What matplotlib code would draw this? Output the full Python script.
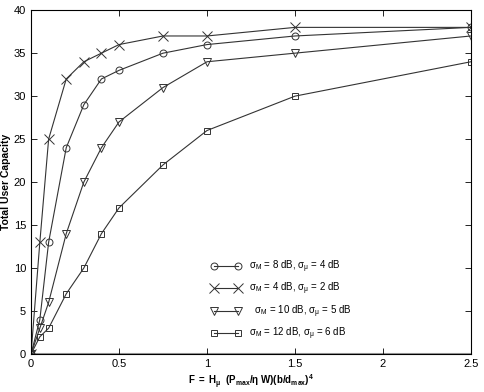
import numpy as np
import matplotlib
matplotlib.use('Agg')
import matplotlib.pyplot as plt

plt.rcParams['font.family'] = ['Liberation Sans', 'DejaVu Sans']
plt.rcParams['mathtext.fontset'] = 'custom'
plt.rcParams['mathtext.rm'] = 'Liberation Sans'
plt.rcParams['mathtext.it'] = 'Liberation Sans:italic'
plt.rcParams['mathtext.bf'] = 'Liberation Sans:bold'
plt.rcParams['mathtext.default'] = 'regular'

# 数据
F = [0, 0.05, 0.1, 0.2, 0.3, 0.4, 0.5, 0.75, 1.0, 1.5, 2.5]
cap_8_4 = [0, 4, 13, 24, 29, 32, 33, 35, 36, 37, 38]
cap_4_2 = [0, 13, 25, 32, 34, 35, 36, 37, 37, 38, 38]
cap_10_5 = [0, 3, 6, 14, 20, 24, 27, 31, 34, 35, 37]
cap_12_6 = [0, 2, 3, 7, 10, 14, 17, 22, 26, 30, 34]

labels = [r'$\sigma_M$ = 8 dB, $\sigma_\mu$ = 4 dB',
          r'$\sigma_M$ = 4 dB, $\sigma_\mu$ = 2 dB',
          r'  $\sigma_M$ = 10 dB, $\sigma_\mu$ = 5 dB',
          r'$\sigma_M$ = 12 dB, $\sigma_\mu$ = 6 dB']

fig = plt.figure(figsize=(4.85, 3.92), dpi=100)
ax = fig.add_axes([0.064, 0.097, 0.907, 0.877])

kw = dict(color='#333333', lw=0.8, mfc='none', mec='#333333', mew=0.7)
ax.plot(F, cap_8_4, marker='o', ms=5, label=labels[0], **kw)
ax.plot(F, cap_4_2, marker='x', ms=7, label=labels[1], **kw)
ax.plot(F, cap_10_5, marker='v', ms=6, label=labels[2], **kw)
ax.plot(F, cap_12_6, marker='s', ms=4, label=labels[3], **kw)

ax.set_xlim(0, 2.5)
ax.set_ylim(0, 40)
ax.set_xticks(np.arange(0, 2.51, 0.5))
ax.set_xticklabels(['0', '0.5', '1', '1.5', '2', '2.5'])
ax.set_yticks(np.arange(0, 41, 5))
ax.tick_params(direction='in', top=True, right=True, labelsize=8, length=4, width=0.6)
for s in ax.spines.values():
    s.set_linewidth(0.8)
ax.axhline(0, color='#999999', lw=1.5, zorder=0)

ax.set_ylabel('Total User Capacity', fontsize=7.5, fontweight='bold')
ax.set_xlabel(r'$\mathbf{F\ =\ H_{\mu}\ \ (P_{max}/\eta\ W)(b/d_{max})^4}$', fontsize=7)
ax.xaxis.set_label_coords(0.5, -0.055)
ax.yaxis.set_label_coords(-0.045, 0.5)

ax.legend(loc='lower left', bbox_to_anchor=(0.41, 0.035), frameon=False, numpoints=2,
          fontsize=7, handlelength=3.0, labelspacing=0.6, handletextpad=0.9,
          borderpad=0, borderaxespad=0)

plt.savefig('out.png', dpi=100)
